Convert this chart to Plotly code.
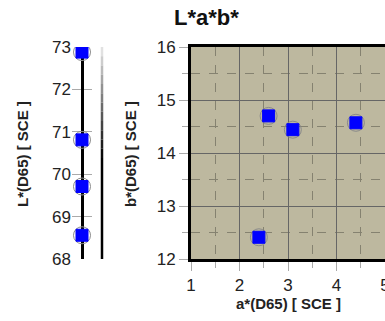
import plotly.graph_objects as go

# sample values
a_vals = [2.6, 3.1, 4.4, 2.4]
b_vals = [14.7, 14.44, 14.57, 12.41]
L_vals = [72.88, 70.81, 69.71, 68.56]
L_zero = [0, 0, 0, 0]

W, H = 385, 321
T, B = 47, 62
PH = H - T - B
FONT = "Liberation Sans, Arial, sans-serif"
BLUE = "#0000ff"
RING = "#8a8a8a"

fig = go.Figure()

def add_points(x, y, xa, ya):
    fig.add_trace(go.Scatter(x=x, y=y, mode="markers", xaxis=xa, yaxis=ya,
                             marker=dict(symbol="circle", size=17, color="rgba(0,0,0,0)",
                                         line=dict(color=RING, width=1)),
                             showlegend=False, hoverinfo="skip"))
    fig.add_trace(go.Scatter(x=x, y=y, mode="markers", xaxis=xa, yaxis=ya,
                             marker=dict(symbol="square", size=12, color=BLUE,
                                         line=dict(color=BLUE, width=1)),
                             showlegend=False))

add_points(a_vals, b_vals, "x", "y")
add_points(L_zero, L_vals, "x2", "y2")

x0 = 191 / W
minor = dict(dtick=0.5, showgrid=True, gridcolor="#858270", griddash="dash",
             gridwidth=1, ticks="outside", ticklen=6, tickcolor="#aaa")
fig.update_layout(
    width=W, height=H,
    margin=dict(l=0, r=0, t=T, b=B, autoexpand=False),
    paper_bgcolor="white",
    plot_bgcolor="rgba(0,0,0,0)",
    font=dict(family=FONT, color="#222", size=17),
    xaxis=dict(domain=[x0, 1], range=[1, 5], dtick=1, automargin=False,
               showline=True, linecolor="black", linewidth=3, mirror=True,
               ticks="outside", ticklen=9, tickcolor="#aaa", tickwidth=1,
               ticklabeloverflow="allow",
               showgrid=True, gridcolor="#666", gridwidth=1, zeroline=False,
               minor=minor, fixedrange=True),
    yaxis=dict(domain=[0, 1], range=[12, 16], dtick=1, automargin=False,
               showline=True, linecolor="black", linewidth=3, mirror=False,
               ticks="outside", ticklen=9, tickcolor="#aaa", tickwidth=1,
               showgrid=True, gridcolor="#666", gridwidth=1, zeroline=False,
               minor=minor, fixedrange=True),
    xaxis2=dict(domain=[72 / W, 92 / W], range=[-1, 1], anchor="y2", automargin=False,
                showticklabels=False, showgrid=False, showline=False,
                zeroline=True, zerolinecolor="black", zerolinewidth=2.5,
                fixedrange=True),
    yaxis2=dict(domain=[0, 1], range=[68, 73], dtick=1, anchor="x2", automargin=False,
                showline=False, ticks="", showgrid=True, gridcolor="#aaa",
                gridwidth=1, zeroline=False, fixedrange=True),
)

# plot-area background of the main panel
fig.add_shape(type="rect", xref="x domain", yref="y domain", x0=0, x1=1, y0=0, y1=1,
              fillcolor="#bdb89f", line=dict(width=0), layer="below")

# titles
fig.add_annotation(text="<b>L*a*b*</b>", xref="paper", yref="paper",
                   x=172 / W, xanchor="left", y=1 + (T - 18) / PH, yanchor="middle",
                   showarrow=False, font=dict(size=22, color="#111"))
fig.add_annotation(text="<b>a*(D65) [ SCE ]</b>", xref="paper", yref="paper",
                   x=288 / W, xanchor="center", y=-(303 - 259) / PH, yanchor="middle",
                   showarrow=False, font=dict(size=15, color="#222"))
fig.add_annotation(text="<b>b*(D65) [ SCE ]</b>", xref="paper", yref="paper",
                   x=130 / W, xanchor="center", y=1 - (154 - 47) / PH, yanchor="middle",
                   textangle=-90, showarrow=False, font=dict(size=15, color="#222"))
fig.add_annotation(text="<b>L*(D65) [ SCE ]</b>", xref="paper", yref="paper",
                   x=22 / W, xanchor="center", y=1 - (154 - 47) / PH, yanchor="middle",
                   textangle=-90, showarrow=False, font=dict(size=15, color="#222"))

# b* scale line with grey-to-black gradient
top, mid, bot = 47, 158, 259
n = 12
for i in range(n):
    ya = top + (mid - top) * i / n
    yb = top + (mid - top) * (i + 1) / n
    g = int(235 * (1 - (i + 0.5) / n))
    fig.add_shape(type="line", xref="paper", yref="paper",
                  x0=102 / W, x1=102 / W,
                  y0=1 - (ya - T) / PH, y1=1 - (yb - T) / PH,
                  line=dict(color=f"rgb({g},{g},{g})", width=2.5))
fig.add_shape(type="line", xref="paper", yref="paper",
              x0=102 / W, x1=102 / W,
              y0=1 - (mid - T) / PH, y1=1 - (bot - T) / PH,
              line=dict(color="black", width=2.5))

fig.write_html("out.html", config={"displayModeBar": False},
               post_script="document.body.style.margin='0';document.body.style.overflow='hidden';")
